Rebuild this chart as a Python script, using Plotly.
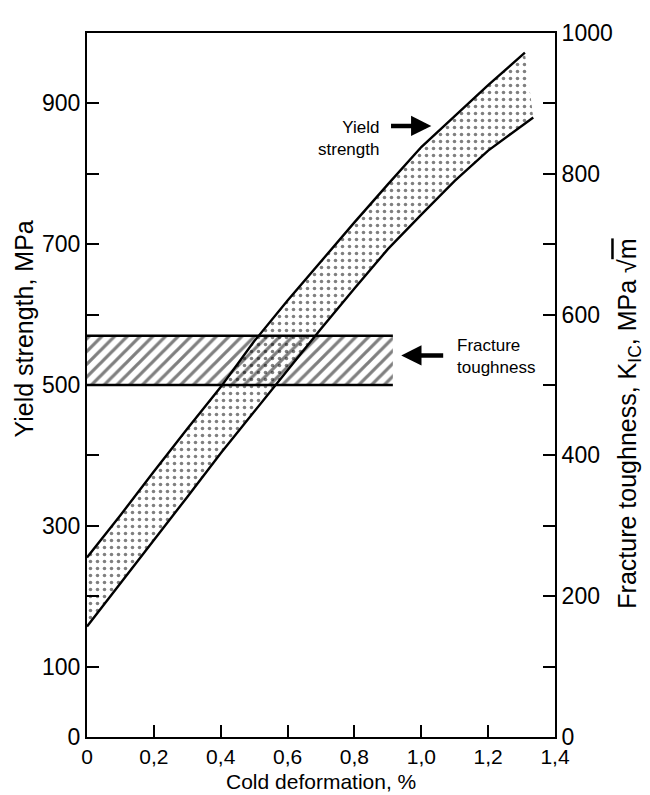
import plotly.graph_objects as go

# ---- data ----
upper_x = [0.0, 0.1, 0.2, 0.3, 0.4, 0.5, 0.6, 0.7, 0.8, 0.9, 1.0, 1.1, 1.2, 1.31]
upper_y = [255, 315, 377, 438, 497, 562, 620, 676, 731, 785, 838, 882, 926, 972]
lower_x = [0.0, 0.1, 0.2, 0.3, 0.4, 0.5, 0.6, 0.7, 0.8, 0.9, 1.0, 1.1, 1.2, 1.3, 1.335]
lower_y = [157, 218, 280, 341, 403, 462, 520, 580, 637, 693, 742, 790, 833, 868, 880]

kic_x = [0.0, 0.915]
kic_low = 500
kic_high = 570

x_ticks = [0, 0.2, 0.4, 0.6, 0.8, 1.0, 1.2, 1.4]
x_ticktext = ["0", "0,2", "0,4", "0,6", "0,8", "1,0", "1,2", "1,4"]
ys_ticks = [0, 100, 200, 300, 400, 500, 600, 700, 800, 900]
ys_ticktext = ["0", "100", "", "300", "", "500", "", "700", "", "900"]
kic_ticks = [0, 100, 200, 300, 400, 500, 600, 700, 800, 900, 1000]
kic_ticktext = ["0", "", "200", "", "400", "", "600", "", "800", "", "1000"]

FONT = "Liberation Sans, Arial, Helvetica, sans-serif"

fig = go.Figure()

# hatched fracture toughness band
fig.add_trace(go.Scatter(
    x=[kic_x[0], kic_x[1], kic_x[1], kic_x[0], kic_x[0]],
    y=[kic_low, kic_low, kic_high, kic_high, kic_low],
    fill="toself", fillcolor="rgba(0,0,0,0)", mode="none",
    fillpattern=dict(shape="/", size=9, solidity=0.36, fgcolor="black", bgcolor="rgba(0,0,0,0)"),
    hoverinfo="skip", showlegend=False,
))
for yv in (kic_low, kic_high):
    fig.add_trace(go.Scatter(x=kic_x, y=[yv, yv], mode="lines",
                             line=dict(color="black", width=2.4), showlegend=False, hoverinfo="skip"))

# dotted yield strength band
fig.add_trace(go.Scatter(
    x=upper_x + lower_x[::-1], y=upper_y + lower_y[::-1],
    fill="toself", fillcolor="rgba(0,0,0,0)", mode="none",
    fillpattern=dict(shape=".", size=7, solidity=0.2, fgcolor="black", bgcolor="rgba(0,0,0,0)"),
    hoverinfo="skip", showlegend=False,
))
fig.add_trace(go.Scatter(x=upper_x, y=upper_y, mode="lines",
                         line=dict(color="black", width=2.4), showlegend=False, hoverinfo="skip"))
fig.add_trace(go.Scatter(x=lower_x, y=lower_y, mode="lines",
                         line=dict(color="black", width=2.4), showlegend=False, hoverinfo="skip"))

# dummy trace for right axis
fig.add_trace(go.Scatter(x=[0], y=[0], yaxis="y2", mode="markers",
                         marker=dict(opacity=0), showlegend=False, hoverinfo="skip"))

axis_common = dict(showgrid=False, zeroline=False, showline=True, linecolor="black",
                   linewidth=2, ticks="inside", ticklen=12, tickwidth=1.8, tickcolor="black")

# page body has an 8px default margin, so the figure is sized to fit the 650x795 window
fig.update_layout(
    width=642, height=787,
    margin=dict(l=79, r=95, t=17, b=58),
    paper_bgcolor="white", plot_bgcolor="white",
    xaxis=dict(range=[0, 1.4], tickvals=x_ticks, ticktext=x_ticktext, mirror=True,
               tickfont=dict(family=FONT, size=21, color="black"), **axis_common),
    yaxis=dict(range=[0, 1000], tickvals=ys_ticks, ticktext=ys_ticktext,
               tickfont=dict(family=FONT, size=23, color="black"), **axis_common),
    yaxis2=dict(range=[0, 1000], tickvals=kic_ticks, ticktext=kic_ticktext, overlaying="y",
                side="right", tickfont=dict(family=FONT, size=23, color="black"), **axis_common),
    font=dict(family=FONT, color="black"),
    annotations=[
        dict(text="Yield strength, MPa", xref="paper", yref="paper", x=-0.135, y=0.58,
             textangle=-90, showarrow=False, font=dict(size=25), xanchor="center", yanchor="middle"),
        dict(text="Fracture toughness, K<sub>IC</sub>, MPa √<span style='text-decoration:overline'>m</span>",
             xref="paper", yref="paper", x=1.158, y=0.445,
             textangle=-90, showarrow=False, font=dict(size=25), xanchor="center", yanchor="middle"),
        dict(text="Cold deformation, %", xref="paper", yref="paper", x=0.5, y=-0.063,
             showarrow=False, font=dict(size=21), xanchor="center", yanchor="middle"),
        dict(text="Yield<br>strength", x=0.88, y=850, xref="x", yref="y", showarrow=False,
             align="right", xanchor="right", yanchor="middle", font=dict(size=17)),
        dict(text="Fracture<br>toughness", x=1.10, y=540, xref="x", yref="y", showarrow=False,
             align="left", xanchor="left", yanchor="middle", font=dict(size=17)),
        dict(x=1.03, y=868, ax=0.905, ay=868, xref="x", yref="y", axref="x", ayref="y",
             text="", showarrow=True, arrowhead=2, arrowsize=0.9, arrowwidth=4.5, arrowcolor="black"),
        dict(x=0.94, y=542, ax=1.07, ay=542, xref="x", yref="y", axref="x", ayref="y",
             text="", showarrow=True, arrowhead=2, arrowsize=0.9, arrowwidth=4.5, arrowcolor="black"),
    ],
)

fig.write_html("out.html")
